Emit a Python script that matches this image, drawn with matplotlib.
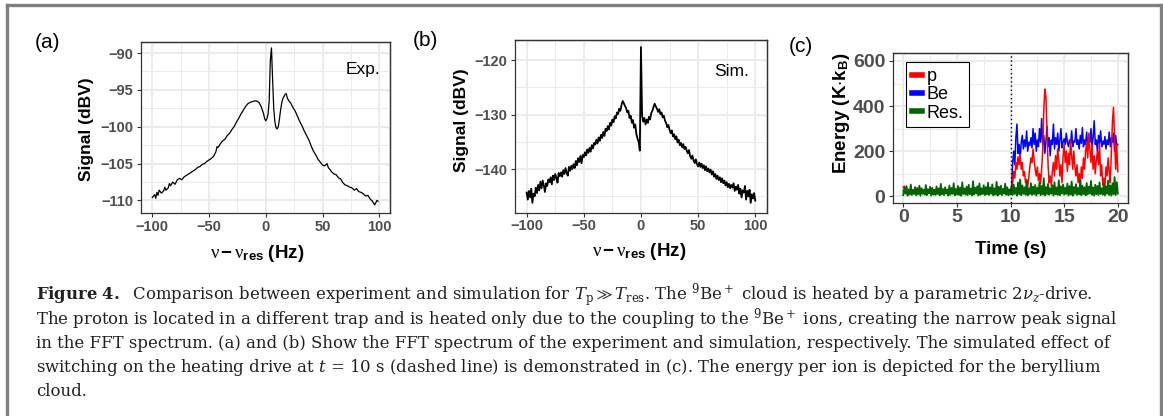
import matplotlib
matplotlib.use("Agg")
import numpy as np
import matplotlib.pyplot as plt
from matplotlib.lines import Line2D
from matplotlib.ticker import MultipleLocator

# ─── Data: (a) measured FFT spectrum ─────────────────────────────────────────
freq_a = [-100, -98, -97, -96, -95, -94, -92, -90, -89, -88, -86, -85, -84, -82,
          -80, -78, -76, -74, -72, -70, -68, -66, -64, -62, -60, -58, -56, -54,
          -52, -50, -48, -46, -44, -43, -42, -40, -38, -36, -34, -32, -30, -28,
          -26, -24, -22, -20, -18, -16, -14, -12, -10, -8, -6, -4, -2, -1, 0, 1,
          2, 3, 4, 5, 6, 7, 8, 9, 10, 11, 12, 13, 14, 15, 16, 17, 18, 19, 20, 22,
          24, 26, 28, 30, 32, 34, 36, 38, 40, 42, 44, 46, 48, 50, 52, 54, 55, 56,
          58, 60, 62, 64, 66, 68, 70, 72, 74, 76, 78, 80, 82, 84, 86, 88, 90, 92,
          94, 96, 97, 98, 99]
sig_a = [-109.6, -109.2, -109.7, -108.9, -109.3, -108.6, -109.0, -108.7, -108.2,
         -108.6, -108.3, -107.7, -108.0, -107.5, -107.8, -107.2, -107.0, -107.2,
         -106.8, -106.6, -106.4, -106.2, -106.0, -105.8, -105.5, -105.4, -105.1,
         -105.0, -104.7, -104.5, -104.3, -104.0, -103.4, -102.7, -102.8, -102.3,
         -101.9, -101.7, -101.2, -100.9, -100.4, -100.0, -99.4, -98.9, -98.3, -97.8,
         -97.3, -96.9, -96.7, -96.6, -96.5, -96.5, -96.7, -97.3, -98.2, -98.9,
         -99.2, -98.9, -98.3, -96.5, -91.0, -89.3, -93.5, -97.5, -99.3, -100.1,
         -100.3, -100.0, -99.0, -97.8, -96.8, -96.2, -95.9, -95.6, -95.5, -96.1,
         -96.4, -96.8, -97.4, -97.9, -98.6, -99.3, -99.9, -100.6, -101.2, -101.8,
         -102.6, -103.3, -103.8, -104.4, -104.8, -105.2, -105.3, -105.0, -105.5,
         -105.7, -106.1, -106.4, -106.5, -106.9, -107.1, -107.6, -107.9, -108.0,
         -108.2, -108.3, -108.6, -108.4, -108.8, -108.9, -109.1, -109.4, -109.3,
         -109.8, -110.1, -110.6, -110.3, -110.0, -110.1]

# ─── Data: (b) simulated FFT spectrum, 1 Hz bins from -100 to 100 ────────────
freq_b = np.arange(-100, 101)
sig_b = [-144.3, -145.6, -144.0, -145.2, -143.6, -146.2, -144.5, -145.0, -143.4, -144.4,
         -142.9, -143.9, -142.3, -143.5, -142.1, -143.0, -144.2, -142.6, -143.1, -141.9,
         -142.4, -141.5, -142.8, -141.2, -142.0, -140.9, -141.6, -142.5, -140.7, -141.3,
         -140.6, -141.4, -140.2, -140.9, -139.8, -140.7, -141.2, -139.6, -140.3, -139.4,
         -140.0, -139.1, -139.8, -138.5, -139.3, -138.0, -138.7, -137.6, -138.9, -137.4,
         -137.8, -136.9, -137.5, -136.4, -137.0, -136.1, -136.8, -135.6, -136.2, -135.2,
         -135.5, -134.6, -135.3, -134.2, -134.8, -133.7, -134.3, -133.2, -133.9, -132.6,
         -133.0, -132.1, -132.7, -131.5, -132.0, -130.9, -131.4, -130.3, -130.7, -129.6,
         -129.9, -128.9, -129.3, -128.2, -127.5, -127.9, -128.4, -128.8, -129.6, -129.3,
         -130.6, -130.2, -131.5, -131.0, -132.4, -131.8, -133.6, -134.4, -135.0, -136.6,
         -117.6, -130.2, -131.3, -130.6, -131.8, -130.9, -131.5, -130.4, -130.9, -129.7,
         -129.3, -128.6, -128.0, -128.5, -128.9, -129.5, -129.0, -129.9, -129.6, -130.5,
         -130.2, -131.1, -131.5, -132.3, -131.9, -132.8, -133.4, -132.9, -134.0, -133.6,
         -134.5, -134.0, -135.1, -134.6, -135.6, -135.2, -136.0, -135.4, -136.3, -135.9,
         -136.6, -137.1, -136.5, -137.6, -138.1, -137.5, -138.4, -138.9, -138.2, -139.1,
         -139.5, -138.8, -139.6, -139.0, -139.8, -139.3, -140.2, -139.5, -140.4, -139.9,
         -140.6, -140.1, -141.0, -140.4, -141.4, -140.9, -141.8, -141.2, -142.0, -141.5,
         -142.4, -141.7, -142.6, -142.1, -143.0, -142.4, -143.3, -142.7, -143.5, -142.9,
         -143.4, -142.6, -144.0, -143.2, -143.8, -142.9, -144.5, -143.6, -145.2, -143.9,
         -144.3, -143.1, -145.6, -144.0, -145.0, -143.8, -146.2, -144.6, -145.4, -144.4,
         -145.8]

# ─── Data: (c) simulated energies, 0.1 s steps from 0 to 20 s ────────────────
time_c = np.linspace(0, 20, 201)
energy_p = [40, 45, 35, 28, 22, 30, 25, 33, 20, 27,
            24, 31, 26, 38, 21, 29, 35, 23, 30, 26,
            22, 28, 33, 25, 30, 20, 27, 32, 24, 29,
            26, 31, 22, 28, 35, 25, 30, 23, 27, 32,
            24, 29, 26, 33, 21, 28, 31, 25, 30, 27,
            23, 30, 26, 34, 22, 29, 32, 24, 28, 26,
            31, 25, 29, 22, 33, 27, 24, 30, 26, 28,
            23, 31, 27, 25, 32, 22, 29, 26, 30, 24,
            28, 33, 25, 27, 21, 30, 26, 31, 24, 29,
            27, 22, 30, 25, 33, 28, 24, 31, 26, 29,
            25, 40, 60, 110, 80, 150, 120, 175, 140, 185,
            120, 150, 90, 110, 60, 75, 40, 85, 130, 170,
            150, 210, 160, 120, 90, 130, 70, 100, 55, 120,
            200, 380, 475, 440, 300, 140, 60, 90, 45, 110,
            150, 90, 180, 120, 210, 160, 90, 140, 60, 180,
            230, 150, 200, 110, 190, 140, 250, 180, 120, 200,
            130, 90, 140, 60, 100, 45, 130, 80, 170, 120,
            200, 240, 170, 280, 210, 150, 230, 120, 180, 100,
            160, 200, 140, 230, 90, 140, 50, 80, 40, 130,
            90, 170, 110, 60, 200, 330, 395, 250, 120, 230,
            110]
energy_be = [25, 28, 22, 30, 26, 24, 29, 23, 27, 25,
             28, 24, 30, 22, 27, 26, 29, 23, 25, 28,
             24, 27, 22, 29, 26, 30, 23, 25, 28, 24,
             27, 25, 29, 22, 26, 28, 24, 30, 23, 27,
             25, 29, 24, 27, 22, 28, 26, 30, 23, 25,
             28, 23, 27, 25, 29, 24, 26, 22, 30, 27,
             24, 28, 25, 29, 23, 27, 26, 30, 22, 25,
             29, 24, 27, 23, 28, 25, 30, 26, 22, 27,
             25, 28, 23, 29, 26, 24, 27, 22, 30, 25,
             27, 24, 29, 26, 23, 28, 25, 30, 24, 27,
             30, 35, 150, 200, 140, 260, 320, 190, 230, 170,
             240, 270, 210, 250, 220, 290, 200, 240, 225, 260,
             215, 300, 230, 280, 200, 250, 220, 300, 240, 345,
             230, 270, 190, 240, 310, 220, 260, 180, 250, 230,
             320, 210, 260, 230, 280, 200, 250, 300, 215, 240,
             255, 230, 280, 240, 220, 250, 235, 290, 220, 245,
             240, 300, 230, 250, 210, 270, 235, 305, 220, 250,
             230, 285, 210, 255, 240, 300, 220, 260, 335, 230,
             250, 200, 270, 235, 290, 220, 245, 230, 265, 210,
             250, 230, 285, 220, 260, 240, 280, 200, 270, 225,
             230]
energy_res = [5, 38, 12, 45, 3, 30, 8, 52, 6, 28,
              10, 41, 4, 33, 9, 47, 2, 36, 11, 29,
              7, 50, 5, 31, 13, 42, 3, 38, 8, 27,
              6, 44, 10, 35, 4, 55, 9, 32, 5, 40,
              12, 30, 3, 48, 7, 37, 11, 58, 4, 33,
              8, 46, 6, 39, 2, 62, 10, 35, 7, 43,
              5, 51, 9, 34, 4, 67, 8, 38, 12, 45,
              3, 57, 7, 36, 10, 49, 5, 41, 9, 60,
              6, 39, 11, 53, 4, 35, 8, 64, 3, 42,
              9, 47, 5, 33, 12, 56, 7, 40, 4, 30,
              8, 44, 6, 52, 10, 37, 3, 61, 9, 75,
              5, 48, 11, 40, 7, 66, 4, 35, 10, 58,
              6, 43, 9, 50, 3, 38, 12, 63, 5, 46,
              8, 80, 4, 41, 10, 55, 7, 36, 11, 49,
              3, 62, 9, 39, 6, 71, 5, 44, 12, 52,
              7, 38, 10, 57, 4, 45, 8, 66, 3, 41,
              11, 54, 6, 37, 9, 73, 5, 47, 10, 40,
              4, 59, 8, 43, 12, 68, 6, 39, 3, 51,
              9, 46, 5, 62, 10, 36, 7, 55, 4, 44,
              11, 70, 6, 48, 3, 58, 9, 85, 5, 63,
              12]
drive_on = 10

caption_lines = [
    r"$\mathbf{Figure\ 4.}$  Comparison between experiment and simulation for "
    r"$T_\mathrm{p} \gg T_\mathrm{res}$. The $^9$Be$^+$ cloud is heated by a parametric 2$\nu_z$-drive.",
    r"The proton is located in a different trap and is heated only due to the coupling to the "
    r"$^9$Be$^+$ ions, creating the narrow peak signal",
    r"in the FFT spectrum. (a) and (b) Show the FFT spectrum of the experiment and simulation, "
    r"respectively. The simulated effect of",
    r"switching on the heating drive at $t$ = 10 s (dashed line) is demonstrated in (c). "
    r"The energy per ion is depicted for the beryllium",
    r"cloud.",
]

# ─── Style ────────────────────────────────────────────────────────────────────
plt.rcParams.update({
    "font.family": "Liberation Sans",
    "mathtext.fontset": "custom",
    "mathtext.rm": "Liberation Serif",
    "mathtext.it": "Liberation Serif",
    "mathtext.bf": "Liberation Sans:bold",
})
W, H = 1163, 416
GRID = "#EBEBEB"
SPINE = "#333333"
TICKLAB = "#4D4D4D"


def px(x, y):
    return x / W, 1 - y / H


def style_axes(ax, xmaj, xmin, ymaj, ymin, labelsize):
    ax.xaxis.set_major_locator(MultipleLocator(xmaj))
    ax.xaxis.set_minor_locator(MultipleLocator(xmin))
    ax.yaxis.set_major_locator(MultipleLocator(ymaj))
    ax.yaxis.set_minor_locator(MultipleLocator(ymin))
    ax.grid(True, which="major", color=GRID, lw=1.4, zorder=0)
    ax.grid(True, which="minor", color=GRID, lw=0.7, zorder=0)
    ax.set_axisbelow(True)
    for s in ax.spines.values():
        s.set_color(SPINE)
        s.set_linewidth(0.9)
    ax.tick_params(which="major", direction="out", length=3.2, width=0.8,
                   color=SPINE, labelcolor=TICKLAB, labelsize=labelsize)
    ax.tick_params(axis="x", pad=1.5)
    ax.tick_params(axis="y", pad=2.5)
    ax.tick_params(which="minor", length=0)
    for lab in ax.get_xticklabels() + ax.get_yticklabels():
        lab.set_fontweight("bold")
    # mirrored inward ticks on top/right
    top = ax.secondary_xaxis("top")
    top.set_xticks(ax.get_xticks())
    top.tick_params(direction="in", length=3.2, width=0.8, color=SPINE, labeltop=False)
    right = ax.secondary_yaxis("right")
    right.set_yticks(ax.get_yticks())
    right.tick_params(direction="in", length=3.2, width=0.8, color=SPINE, labelright=False)
    for sec in (top, right):
        for s in sec.spines.values():
            s.set_color(SPINE)
            s.set_linewidth(0.9)


fig = plt.figure(figsize=(W / 100, H / 100), dpi=100)

# ─── (a) ──────────────────────────────────────────────────────────────────────
ax_a = fig.add_axes([141 / W, 1 - 213 / H, 249 / W, 171 / H])
ax_a.plot(freq_a, sig_a, color="black", lw=0.9)
ax_a.set_xlim(-110, 109.5)
ax_a.set_ylim(-111.7, -88.5)
ax_a.set_xticks([-100, -50, 0, 50, 100])
ax_a.set_yticks([-110, -105, -100, -95, -90])
style_axes(ax_a, 50, 25, 5, 2.5, 10.5)
ax_a.text(0.89, 0.84, "Exp.", transform=ax_a.transAxes, ha="center", va="center", fontsize=12.5)

# ─── (b) ──────────────────────────────────────────────────────────────────────
ax_b = fig.add_axes([515 / W, 1 - 212.7 / H, 251.7 / W, 172.7 / H])
ax_b.plot(freq_b, sig_b, color="black", lw=1.3)
ax_b.set_xlim(-110.2, 110)
ax_b.set_ylim(-148.0, -116.3)
ax_b.set_xticks([-100, -50, 0, 50, 100])
ax_b.set_yticks([-140, -130, -120])
style_axes(ax_b, 50, 25, 10, 5, 10.5)
ax_b.text(0.86, 0.82, "Sim.", transform=ax_b.transAxes, ha="center", va="center", fontsize=12.5)

# ─── (c) ──────────────────────────────────────────────────────────────────────
ax_c = fig.add_axes([893.3 / W, 1 - 202.7 / H, 235 / W, 150 / H])
ax_c.plot(time_c, energy_be, color="#0000FF", lw=1.1, zorder=2)
ax_c.plot(time_c, energy_p, color="#FF0000", lw=1.1, zorder=3)
ax_c.plot(time_c, energy_res, color="#006400", lw=1.3, zorder=4)
ax_c.axvline(drive_on, color="black", ls=(0, (1, 2)), lw=1.0, zorder=5)
ax_c.set_xlim(-0.93, 20.98)
ax_c.set_ylim(-28.4, 636.8)
ax_c.set_xticks([0, 5, 10, 15, 20])
ax_c.set_yticks([0, 200, 400, 600])
style_axes(ax_c, 5, 2.5, 200, 100, 14)
handles = [Line2D([], [], color=c, lw=4) for c in ("#FF0000", "#0000FF", "#006400")]
leg = ax_c.legend(handles, ["p", "Be", "Res."], loc="upper left",
                  bbox_to_anchor=(0.055, 0.935), fontsize=13, handlelength=0.55,
                  handletextpad=0.3, labelspacing=0.08, borderpad=0.3,
                  fancybox=False, framealpha=1, borderaxespad=0)
leg.get_frame().set_edgecolor("black")
leg.get_frame().set_linewidth(0.8)

# ─── Axis titles and panel labels ─────────────────────────────────────────────
xl = r"$\mathrm{ν}\,\mathbf{-}\,\mathrm{ν}_{\mathbf{res}}\ \mathbf{(Hz)}$"
fig.text(*px(257.5, 253), xl, ha="center", va="center", fontsize=13.5)
fig.text(*px(639.5, 251), xl, ha="center", va="center", fontsize=13.5)
fig.text(*px(86.5, 129), "Signal (dBV)", rotation=90, ha="center", va="center",
         fontsize=12.5, fontweight="bold")
fig.text(*px(461.5, 120.5), "Signal (dBV)", rotation=90, ha="center", va="center",
         fontsize=12.5, fontweight="bold")
fig.text(*px(1010.8, 250), "Time (s)", ha="center", va="center", fontsize=13.5, fontweight="bold")
fig.text(*px(841, 113.5), r"Energy (K$\mathbf{\cdot}$k$_\mathbf{B}$)", rotation=90,
         ha="center", va="center", fontsize=13.5, fontweight="bold")
fig.text(*px(48, 42), "(a)", ha="center", va="center", fontsize=15)
fig.text(*px(425.5, 40), "(b)", ha="center", va="center", fontsize=15)
fig.text(*px(800.5, 47), "(c)", ha="center", va="center", fontsize=15)

# ─── Caption ──────────────────────────────────────────────────────────────────
for i, line in enumerate(caption_lines):
    fig.text(*px(36, 300 + 24 * i), line, ha="left", va="baseline", fontsize=11.9,
             family="DejaVu Serif", math_fontfamily="dejavuserif", color="#231F20")

# ─── Frame around figure ──────────────────────────────────────────────────────
for xs, ys in [((6.5, 6.5), (416, 5)), ((6.5, 1160.5), (5, 5)), ((1160.5, 1160.5), (5, 416))]:
    fig.add_artist(Line2D([x / W for x in xs], [1 - y / H for y in ys],
                          color="#808080", lw=2.4, solid_capstyle="projecting"))

fig.savefig("out.png", dpi=100)
